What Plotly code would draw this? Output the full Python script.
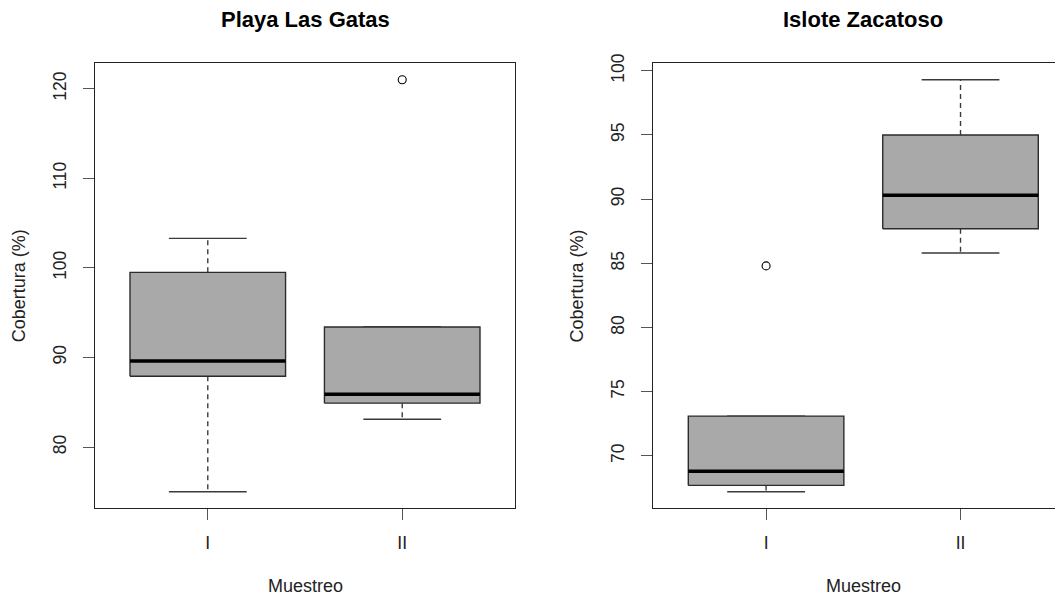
import plotly.graph_objects as go

# ---------------- data ----------------
groups = ["I", "II"]

titles = ["Playa Las Gatas", "Islote Zacatoso"]

gatas_lower = [75.0, 83.1]
gatas_q1 = [87.9, 84.9]
gatas_median = [89.6, 85.9]
gatas_q3 = [99.5, 93.4]
gatas_upper = [103.3, 93.4]
gatas_outliers = [[], [121.0]]

zacatoso_lower = [67.2, 85.8]
zacatoso_q1 = [67.7, 87.7]
zacatoso_median = [68.8, 90.3]
zacatoso_q3 = [73.1, 95.0]
zacatoso_upper = [73.1, 99.3]
zacatoso_outliers = [[84.8], []]

gatas_ticks = [80, 90, 100, 110, 120]
zacatoso_ticks = [70, 75, 80, 85, 90, 95, 100]

x_title = "Muestreo"
y_title = "Cobertura (%)"

# ---------------- geometry / style ----------------
W, H = 1063, 596
OFF = 8.0  # page body margin offset of the figure on screen
FONT = "Liberation Sans, Arial, sans-serif"
BOX_FILL = "#A9A9A9"
LINE_C = "#2b2b2b"
HALF_BOX = 0.4
HALF_STAPLE = 0.2

# plot regions in screen pixels (left, right, top, bottom)
regions = [(95.0, 515.0, 63.3, 508.3), (653.3, 1073.3, 63.3, 508.3)]

sites = [
    dict(lower=gatas_lower, q1=gatas_q1, med=gatas_median, q3=gatas_q3,
         upper=gatas_upper, out=gatas_outliers, ticks=gatas_ticks),
    dict(lower=zacatoso_lower, q1=zacatoso_q1, med=zacatoso_median, q3=zacatoso_q3,
         upper=zacatoso_upper, out=zacatoso_outliers, ticks=zacatoso_ticks),
]


def px(sx):
    return (sx - OFF) / W


def py(sy):
    return 1 - (sy - OFF) / H


fig = go.Figure()
annotations = []
n = len(groups)
xlo_full = 0.5 - 0.04 * n
xhi_full = n + 0.5 + 0.04 * n

for k, s in enumerate(sites):
    xa = "x" if k == 0 else f"x{k+1}"
    ya = "y" if k == 0 else f"y{k+1}"
    for i in range(n):
        c = i + 1
        # whiskers (dashed)
        fig.add_trace(go.Scatter(
            x=[c, c, None, c, c],
            y=[s["q3"][i], s["upper"][i], None, s["q1"][i], s["lower"][i]],
            mode="lines", line=dict(color="#3a3a3a", width=1.4, dash="5px,4px"),
            xaxis=xa, yaxis=ya, showlegend=False, hoverinfo="skip"))
        # staples
        fig.add_trace(go.Scatter(
            x=[c - HALF_STAPLE, c + HALF_STAPLE, None, c - HALF_STAPLE, c + HALF_STAPLE],
            y=[s["upper"][i], s["upper"][i], None, s["lower"][i], s["lower"][i]],
            mode="lines", line=dict(color="#3a3a3a", width=1.4),
            xaxis=xa, yaxis=ya, showlegend=False, hoverinfo="skip"))
        # box
        fig.add_trace(go.Scatter(
            x=[c - HALF_BOX, c + HALF_BOX, c + HALF_BOX, c - HALF_BOX, c - HALF_BOX],
            y=[s["q1"][i], s["q1"][i], s["q3"][i], s["q3"][i], s["q1"][i]],
            mode="lines", fill="toself", fillcolor=BOX_FILL,
            line=dict(color=LINE_C, width=1.4),
            xaxis=xa, yaxis=ya, showlegend=False, hoverinfo="skip"))
        # median
        fig.add_trace(go.Scatter(
            x=[c - HALF_BOX, c + HALF_BOX],
            y=[s["med"][i], s["med"][i]],
            mode="lines", line=dict(color="black", width=3.6),
            xaxis=xa, yaxis=ya, showlegend=False, hoverinfo="skip"))
        # outliers
        if s["out"][i]:
            fig.add_trace(go.Scatter(
                x=[c] * len(s["out"][i]), y=s["out"][i], mode="markers",
                marker=dict(symbol="circle-open", size=8, color="black",
                            line=dict(width=1.1)),
                xaxis=xa, yaxis=ya, showlegend=False, hoverinfo="skip"))

    # y range like R (4% extension of the data range)
    allv = s["lower"] + s["upper"] + [v for o in s["out"] for v in o]
    lo, hi = min(allv), max(allv)
    ext = 0.04 * (hi - lo)
    yr = [lo - ext, hi + ext]

    L, R, T, B = regions[k]
    d0 = px(L)
    d1 = min(px(R), 1.0)
    clipped = px(R) > 1.0
    # clip x range if the region extends past the figure edge
    frac = (d1 - d0) / (px(R) - d0)
    xr = [xlo_full, xlo_full + (xhi_full - xlo_full) * frac]

    axis_common = dict(showgrid=False, zeroline=False, showline=True,
                       linecolor="#222", linewidth=1.2, ticks="outside",
                       ticklen=11, tickwidth=1.2, tickcolor="#555",
                       automargin=False,
                       tickfont=dict(family=FONT, size=17.5, color="#222"))
    fig.layout[("xaxis" if k == 0 else f"xaxis{k+1}")] = dict(
        axis_common, domain=[d0, d1], range=xr, anchor=ya,
        tickvals=list(range(1, n + 1)), ticktext=groups, mirror=True,
        ticklabelstandoff=8)
    fig.layout[("yaxis" if k == 0 else f"yaxis{k+1}")] = dict(
        axis_common, domain=[py(B), py(T)], range=yr, anchor=xa,
        tickvals=s["ticks"], tickangle=-90, mirror=(not clipped),
        ticklabelstandoff=10)

    cx = (L + R) / 2
    annotations.append(dict(text=f"<b>{titles[k]}</b>", x=px(cx), y=py(19),
                            xref="paper", yref="paper", showarrow=False,
                            xanchor="center", yanchor="middle",
                            font=dict(family=FONT, size=22, color="black")))
    annotations.append(dict(text=x_title, x=px(cx), y=py(586),
                            xref="paper", yref="paper", showarrow=False,
                            xanchor="center", yanchor="middle",
                            font=dict(family=FONT, size=18, color="#222")))
    annotations.append(dict(text=y_title, x=px(L - 76.5), y=py((T + B) / 2),
                            xref="paper", yref="paper", showarrow=False,
                            textangle=-90, xanchor="center", yanchor="middle",
                            font=dict(family=FONT, size=18, color="#222")))

fig.update_layout(width=W, height=H, autosize=False,
                  margin=dict(l=0, r=0, t=0, b=0, pad=0),
                  paper_bgcolor="white", plot_bgcolor="white",
                  annotations=annotations, showlegend=False)

fig.write_html("out.html")
